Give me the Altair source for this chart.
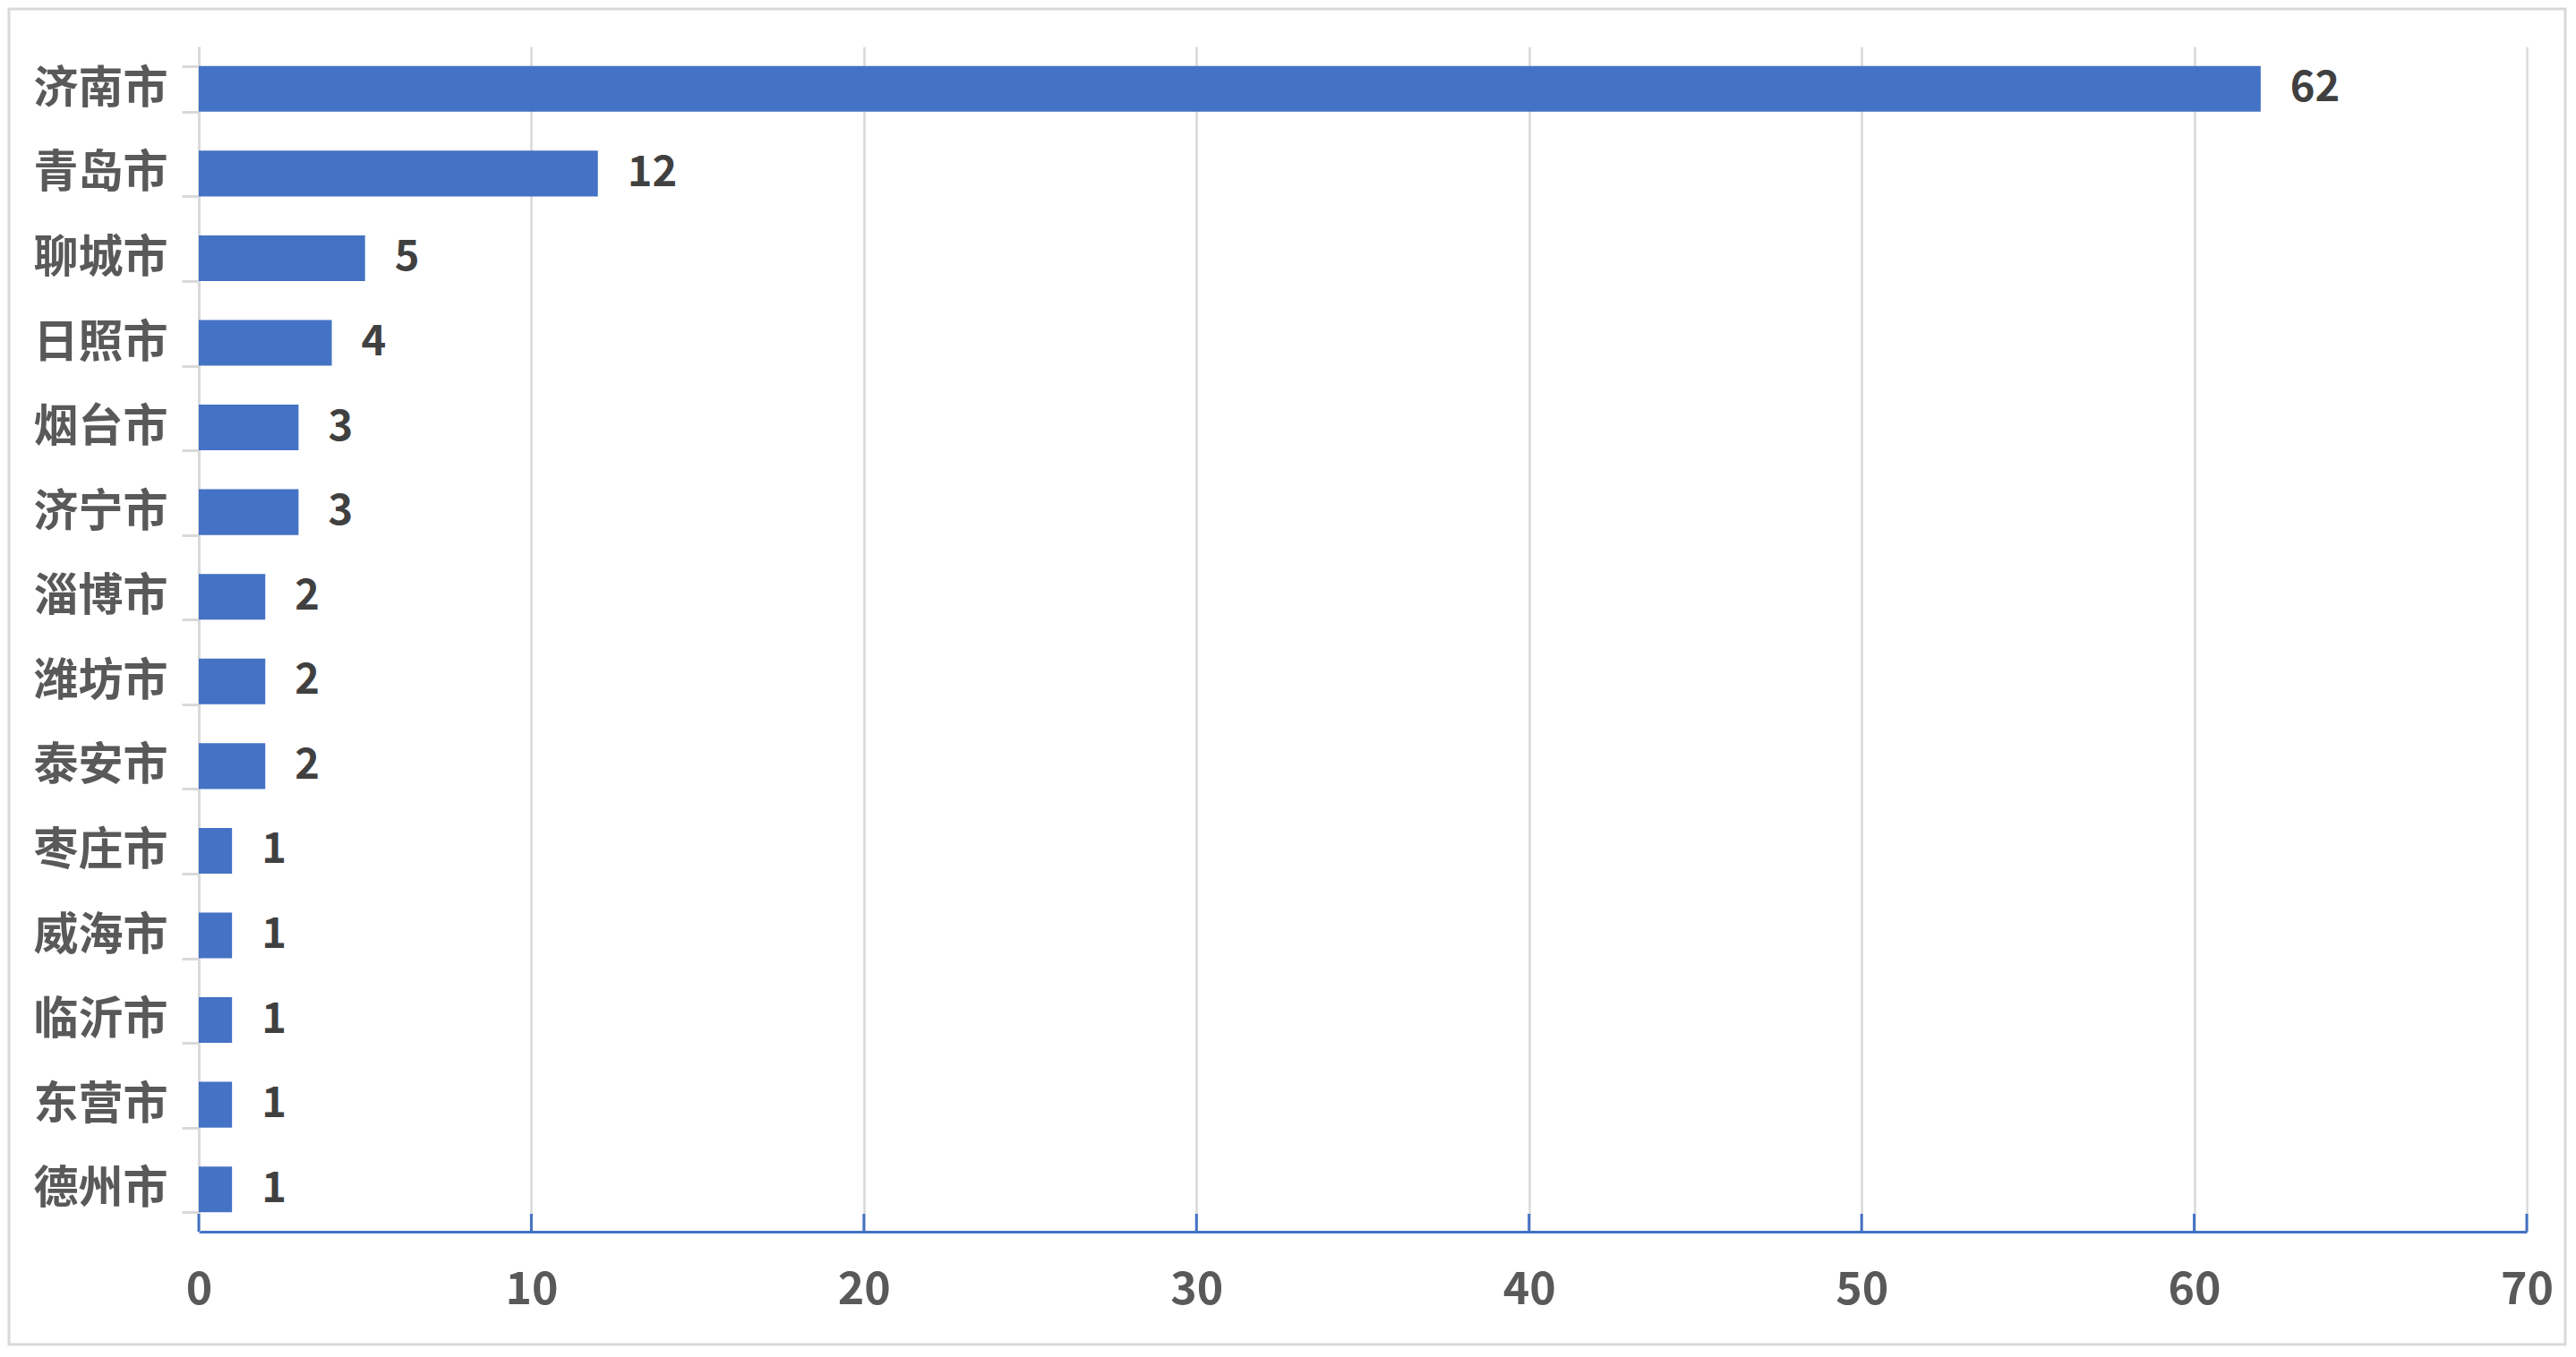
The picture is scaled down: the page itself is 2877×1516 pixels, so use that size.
import altair as alt
import pandas as pd


CITIES = ["济南市", "青岛市", "聊城市", "日照市", "烟台市", "济宁市", "淄博市",
          "潍坊市", "泰安市", "枣庄市", "威海市", "临沂市", "东营市", "德州市"]
COUNTS = [62, 12, 5, 4, 3, 3, 2, 2, 2, 1, 1, 1, 1, 1]
X_TICKS = [0, 10, 20, 30, 40, 50, 60, 70]

FONT = "Noto Sans CJK SC"
BAR = "#4472C4"
GRID = "#d9d9d9"

W, H = 2600, 1324
PAD = {"left": 214, "top": 44, "right": 45, "bottom": 128}

df = pd.DataFrame({"city": CITIES, "count": COUNTS})
ticks_df = pd.DataFrame({"v": X_TICKS})

x_enc = alt.X(
    "count:Q", title=None,
    scale=alt.Scale(domain=[0, 70], nice=False),
    axis=alt.Axis(
        values=X_TICKS, grid=True, gridColor=GRID, gridWidth=2.5,
        ticks=False, domainColor=BAR, domainWidth=3,
        labelFont=FONT, labelFontSize=50, labelFontWeight="bold",
        labelColor="#595959", labelPadding=40, labelFlush=False,
    ),
)
y_enc = alt.Y(
    "city:N", title=None, sort=CITIES,
    scale=alt.Scale(paddingInner=0.46, paddingOuter=0.23),
    axis=alt.Axis(
        tickBand="extent", tickSize=19, tickColor=GRID, tickWidth=3,
        domainColor=GRID, domainWidth=3, grid=False,
        labelFont=FONT, labelFontSize=50, labelFontWeight="bold",
        labelColor="#595959", labelPadding=16,
    ),
)

bars = alt.Chart(df).mark_bar(color=BAR).encode(x=x_enc, y=y_enc)

labels = alt.Chart(df).mark_text(
    align="left", baseline="middle", dx=33,
    font=FONT, fontSize=47, fontWeight="bold", color="#404040",
).encode(x="count:Q", y=alt.Y("city:N", sort=CITIES), text="count:Q")

# blue ticks pointing up from the x axis
xticks = alt.Chart(ticks_df).mark_rule(color=BAR, strokeWidth=3).encode(
    x="v:Q", y=alt.value(H - 20), y2=alt.value(H),
)

# light chart-area frame
frame = alt.Chart(pd.DataFrame({"a": [0]})).mark_rect(
    fillOpacity=0, stroke=GRID, strokeWidth=3,
).encode(
    x=alt.value(-PAD["left"] + 2), x2=alt.value(W + PAD["right"] - 2),
    y=alt.value(-PAD["top"] + 2), y2=alt.value(H + PAD["bottom"] - 2),
)

chart = alt.layer(bars, labels, xticks, frame).properties(
    width=W, height=H,
    autosize=alt.AutoSizeParams(type="none"),
    padding=PAD,
    background="white",
).configure_view(strokeWidth=0)

chart.save("out.html", embed_options={"renderer": "svg", "actions": False})
